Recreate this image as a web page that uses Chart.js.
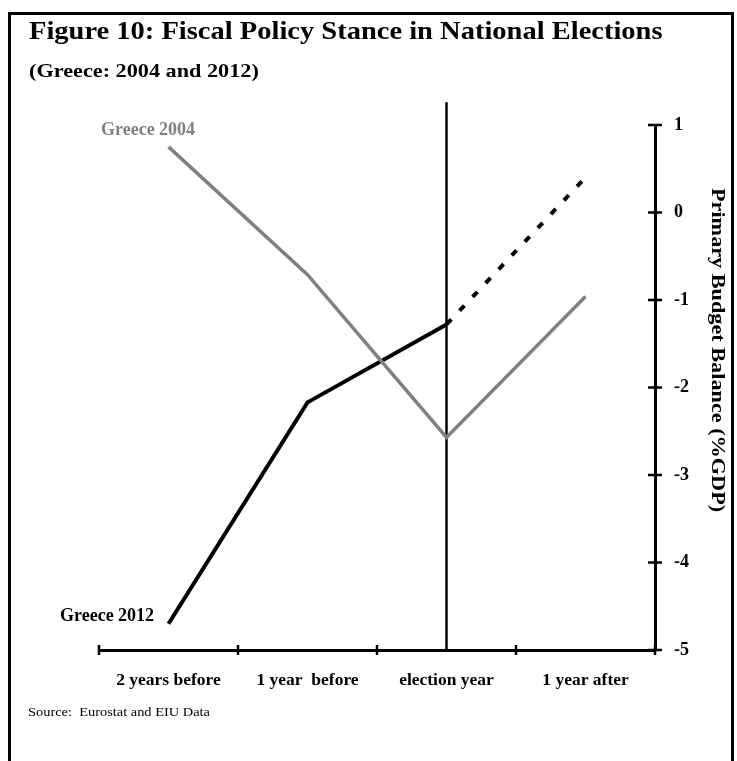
<!DOCTYPE html>
<html lang="en">
<head>
  <meta charset="UTF-8" />
  <title>Figure 10: Fiscal Policy Stance in National Elections</title>
  <script src="https://cdn.jsdelivr.net/npm/chart.js"></script>
  <style>
    body {
      margin: 0;
      padding: 0;
      background: #fff;
      font-family: 'Liberation Serif', 'DejaVu Serif', serif;
    }

    .page {
      position: relative;
      width: 737px;
      height: 761px;
      overflow: hidden;
    }

    .frame {
      position: absolute;
      left: 8px;
      top: 12px;
      width: 726px;
      height: 800px;
      border: 3px solid #000;
      box-sizing: border-box;
    }

    canvas {
      position: absolute;
      left: 0;
      top: 0;
    }

    .title {
      position: absolute;
      left: 29px;
      top: 17px;
      font-size: 25px;
      font-weight: bold;
      white-space: nowrap;
      transform: scaleX(1.14);
      transform-origin: left top;
    }

    .subtitle {
      position: absolute;
      left: 29px;
      top: 60px;
      font-size: 19px;
      font-weight: bold;
      white-space: nowrap;
      transform: scaleX(1.17);
      transform-origin: left top;
    }

    .ytitle {
      position: absolute;
      left: 707px;
      top: 188px;
      writing-mode: vertical-rl;
      font-size: 19px;
      font-weight: bold;
      white-space: nowrap;
      transform: scaleY(1.17);
      transform-origin: left top;
    }

    .source {
      position: absolute;
      left: 28px;
      top: 705px;
      font-size: 12px;
      white-space: nowrap;
      transform: scaleX(1.2);
      transform-origin: left top;
    }
  </style>
</head>
<body>

  <div class="page">
    <div class="frame"></div>
    <canvas id="fiscalChart" width="737" height="761"></canvas>
    <div class="title">Figure 10: Fiscal Policy Stance in National Elections</div>
    <div class="subtitle">(Greece: 2004 and 2012)</div>
    <div class="ytitle">Primary Budget Balance (%GDP)</div>
    <div class="source">Source:&nbsp; Eurostat and EIU Data</div>
  </div>

  <script>
    const periods = ['2 years before', '1 year  before', 'election year', '1 year after'];
    const greece2004 = [0.75, -0.71, -2.57, -0.96];
    const greece2012 = [-4.7, -2.17, -1.28, 0.4];
    const electionMarker = [-5, 1.26];
    const yTicks = [1, 0, -1, -2, -3, -4, -5];

    const serif = "'Liberation Serif', 'DejaVu Serif', serif";

    // cross ticks on both axes + series labels
    const axisTicks = {
      id: 'axisTicks',
      afterDraw(chart) {
        const { ctx, scales: { x, y } } = chart;
        ctx.save();
        ctx.strokeStyle = '#000';
        ctx.lineWidth = 2.5;
        ctx.beginPath();
        for (let i = 0; i <= periods.length; i++) {
          const px = x.getPixelForValue(i - 0.5);
          ctx.moveTo(px, x.top - 5);
          ctx.lineTo(px, x.top + 5);
        }
        yTicks.forEach(v => {
          const py = y.getPixelForValue(v);
          ctx.moveTo(y.left - 7, py);
          ctx.lineTo(y.left + 7, py);
        });
        ctx.stroke();

        ctx.font = 'bold 18px ' + serif;
        ctx.textBaseline = 'middle';
        ctx.fillStyle = '#808080';
        ctx.fillText('Greece 2004', 101, 130);
        ctx.fillStyle = '#000';
        ctx.fillText('Greece 2012', 60, 616);
        ctx.restore();
      }
    };

    new Chart(document.getElementById('fiscalChart'), {
      type: 'line',
      data: {
        labels: periods,
        datasets: [
          {
            label: 'Greece 2004',
            data: greece2004,
            borderColor: '#808080',
            borderWidth: 3.5,
            pointRadius: 0,
            tension: 0
          },
          {
            label: 'Greece 2012',
            data: greece2012,
            borderColor: '#000',
            borderWidth: 4,
            pointRadius: 0,
            tension: 0,
            segment: {
              borderDash: c => c.p0DataIndex === 2 ? [7, 12] : undefined
            }
          },
          {
            label: 'Election',
            data: electionMarker.map(v => ({ x: periods[2], y: v })),
            borderColor: '#000',
            borderWidth: 2.5,
            pointRadius: 0,
            clip: false
          }
        ]
      },
      options: {
        responsive: false,
        animation: false,
        layout: { padding: { left: 99, top: 125, right: 0, bottom: 0 } },
        plugins: {
          legend: { display: false },
          tooltip: { enabled: false }
        },
        scales: {
          x: {
            offset: true,
            grid: { display: false },
            border: { display: true, color: '#000', width: 3 },
            ticks: {
              color: '#000',
              padding: 12,
              maxRotation: 0,
              font: { family: serif, size: 17.5, weight: 'bold' }
            },
            afterFit(scale) { scale.height = 111; }
          },
          y: {
            position: 'right',
            min: -5,
            max: 1,
            grid: { display: false },
            border: { display: true, color: '#000', width: 3 },
            ticks: {
              stepSize: 1,
              color: '#000',
              padding: 11,
              font: { family: serif, size: 18, weight: 'bold' }
            },
            afterFit(scale) { scale.width = 82; }
          }
        }
      },
      plugins: [axisTicks]
    });
  </script>

</body>
</html>
